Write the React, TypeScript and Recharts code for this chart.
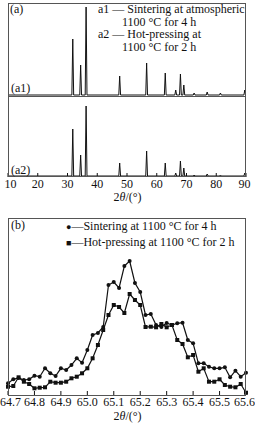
import { LineChart, Line, XAxis, YAxis } from "recharts";

// XRD peak positions (2θ, °) and heights
const PEAKS = [31.77, 34.42, 36.25, 47.54, 56.6, 62.86, 66.38, 67.96, 69.1, 72.56, 76.95, 81.4, 89.6];
const A1_HEIGHTS = [56, 30, 88, 19, 32, 22, 5, 21, 10, 2, 3, 2, 5];
const A2_HEIGHTS = [47, 21, 70, 13, 25, 13, 3, 15, 8, 1, 2, 1, 3];
const A_TICKS = [10, 20, 30, 40, 50, 60, 70, 80, 90];

// panel (b) zoom on 65° peak, 0.02° steps
const B_ANGLES = [
  64.7, 64.72, 64.74, 64.76, 64.78, 64.8, 64.82, 64.84, 64.86, 64.88,
  64.9, 64.92, 64.94, 64.96, 64.98, 65.0, 65.02, 65.04, 65.06, 65.08,
  65.1, 65.12, 65.14, 65.16, 65.18, 65.2, 65.22, 65.24, 65.26, 65.28,
  65.3, 65.32, 65.34, 65.36, 65.38, 65.4, 65.42, 65.44, 65.46, 65.48,
  65.5, 65.52, 65.54, 65.56, 65.58, 65.6,
];
const SINTERING = [
  11.7, 15.7, 17, 15, 15.7, 19.3, 18.3, 26.7, 21.7, 19,
  26.7, 25, 30, 36.7, 32.3, 45, 60, 62, 68, 110,
  113, 107, 129, 134, 112, 103, 80, 81, 70, 68,
  72, 70, 71.7, 72.3, 55, 51.7, 31.7, 31.7, 28.3, 26.7,
  26.7, 27.7, 17.7, 24.3, 18.3, 22.3,
];
const HOT_PRESSING = [
  8.3, 9, 17.7, 13.3, 11, 6.7, 7.3, 7.7, 13.3, 12.3,
  12.3, 13.3, 16.7, 18.3, 21.7, 26.7, 36.7, 50, 65, 80,
  90, 88, 82, 101, 95, 90, 68, 68.3, 67.7, 71,
  67.7, 70, 55, 51, 37.7, 40, 23.3, 26.7, 13.3, 13.3,
  15.7, 10, 8.3, 7.7, 11, 2.3,
];
const B_TICKS = [64.7, 64.8, 64.9, 65.0, 65.1, 65.2, 65.3, 65.4, 65.5, 65.6];

const INK = "#111";
const FRAME = "#555";
const FONT = "'Liberation Serif', 'DejaVu Serif', serif";

function pattern(heights: number[]) {
  const pts: { x: number; y: number }[] = [{ x: 10, y: 0 }];
  PEAKS.forEach((p, i) => {
    pts.push({ x: p - 0.3, y: 0 }, { x: p, y: heights[i] }, { x: Math.min(p + 0.3, 90), y: 0 });
  });
  pts.push({ x: 90, y: 0 });
  return pts;
}

const a1Data = pattern(A1_HEIGHTS);
const a2Data = pattern(A2_HEIGHTS);
const sinterData = B_ANGLES.map((x, i) => ({ x, y: SINTERING[i] }));
const hotData = B_ANGLES.map((x, i) => ({ x, y: HOT_PRESSING[i] }));

function InTick(props: any) {
  const { x, y, payload, digits } = props;
  // keep edge labels inside the 255px page
  const tx = Math.min(Math.max(x, 10.5), 244.5);
  return (
    <g>
      <line x1={x} x2={x} y1={y} y2={y - 4} stroke={INK} strokeWidth={1} />
      <text x={tx} y={y + 11} textAnchor="middle" fontSize={12} fill={INK} fontFamily={FONT}>
        {Number(payload.value).toFixed(digits)}
      </text>
    </g>
  );
}

function Square(props: any) {
  const { cx, cy } = props;
  if (cx == null || cy == null) return null;
  return <rect x={cx - 2} y={cy - 2} width={4} height={4} fill={INK} />;
}

const abs = (left: number, top: number): React.CSSProperties => ({ position: "absolute", left, top });

export default function App() {
  return (
    <div
      style={{
        position: "fixed",
        left: 0,
        top: 0,
        width: 255,
        height: 425,
        background: "#fff",
        fontFamily: FONT,
        color: INK,
        fontSize: 12,
        overflow: "hidden",
      }}
    >
      {/* panel (a) */}
      <div style={abs(0, 0)}>
        <LineChart width={255} height={97} margin={{ top: 3, right: 9, left: 8, bottom: 0 }}>
          <XAxis type="number" dataKey="x" domain={[10, 90]} hide allowDataOverflow />
          <YAxis type="number" domain={[-2, 92]} hide />
          <Line data={a1Data} dataKey="y" stroke={INK} strokeWidth={1} dot={false} isAnimationActive={false} />
        </LineChart>
      </div>
      <div style={abs(0, 97)}>
        <LineChart width={255} height={100} margin={{ top: 0, right: 9, left: 8, bottom: 0 }}>
          <XAxis
            type="number"
            dataKey="x"
            domain={[10, 90]}
            ticks={A_TICKS}
            height={20}
            tickSize={0}
            tickMargin={0}
            axisLine={false}
            tickLine={false}
            tick={<InTick digits={0} />}
            interval={0}
            allowDataOverflow
          />
          <YAxis type="number" domain={[-1, 79]} hide />
          <Line data={a2Data} dataKey="y" stroke={INK} strokeWidth={1} dot={false} isAnimationActive={false} />
        </LineChart>
      </div>
      <div style={{ ...abs(8, 3), width: 238, height: 174, border: `1px solid ${FRAME}`, boxSizing: "border-box" }} />
      <div style={{ ...abs(8, 96), width: 238, height: 1, background: FRAME }} />
      <div style={{ ...abs(10, 2), lineHeight: "14px" }}>(a)</div>
      <div style={{ ...abs(11, 81), lineHeight: "14px" }}>(a1)</div>
      <div style={{ ...abs(11, 163), lineHeight: "14px" }}>(a2)</div>
      <div style={{ ...abs(98, 3), lineHeight: "12.5px", whiteSpace: "nowrap" }}>
        <div>a1 — Sintering at atmospheric</div>
        <div style={{ paddingLeft: 24 }}>1100 °C for 4 h</div>
        <div>a2 — Hot-pressing at</div>
        <div style={{ paddingLeft: 24 }}>1100 °C for 2 h</div>
      </div>
      <div style={{ ...abs(0, 190), width: 255, textAlign: "center", lineHeight: "14px" }}>
        2<i>θ</i>/(°)
      </div>

      {/* panel (b) */}
      <div style={abs(0, 218)}>
        <LineChart width={255} height={197} margin={{ top: 0, right: 9, left: 8, bottom: 0 }}>
          <XAxis
            type="number"
            dataKey="x"
            domain={[64.7, 65.6]}
            ticks={B_TICKS}
            height={20}
            tickSize={0}
            tickMargin={0}
            axisLine={false}
            tickLine={false}
            tick={<InTick digits={1} />}
            interval={0}
          />
          <YAxis type="number" domain={[0, 177]} hide />
          <Line
            data={sinterData}
            dataKey="y"
            stroke={INK}
            strokeWidth={1.2}
            dot={{ r: 2, fill: INK, stroke: "none" }}
            isAnimationActive={false}
          />
          <Line
            data={hotData}
            dataKey="y"
            stroke={INK}
            strokeWidth={1.2}
            dot={<Square />}
            isAnimationActive={false}
          />
        </LineChart>
      </div>
      <div style={{ ...abs(8, 218), width: 238, height: 178, border: `1px solid ${FRAME}`, boxSizing: "border-box" }} />
      <div style={{ ...abs(11, 218), lineHeight: "14px" }}>(b)</div>
      <div style={{ ...abs(66, 219), lineHeight: "15px", whiteSpace: "nowrap" }}>
        <div>
          <span style={{ fontSize: 9 }}>●</span>—Sintering at 1100 °C for 4 h
        </div>
        <div>
          <span style={{ fontSize: 9 }}>■</span>—Hot-pressing at 1100 °C for 2 h
        </div>
      </div>
      <div style={{ ...abs(0, 409), width: 255, textAlign: "center", lineHeight: "14px" }}>
        2<i>θ</i>/(°)
      </div>
    </div>
  );
}
